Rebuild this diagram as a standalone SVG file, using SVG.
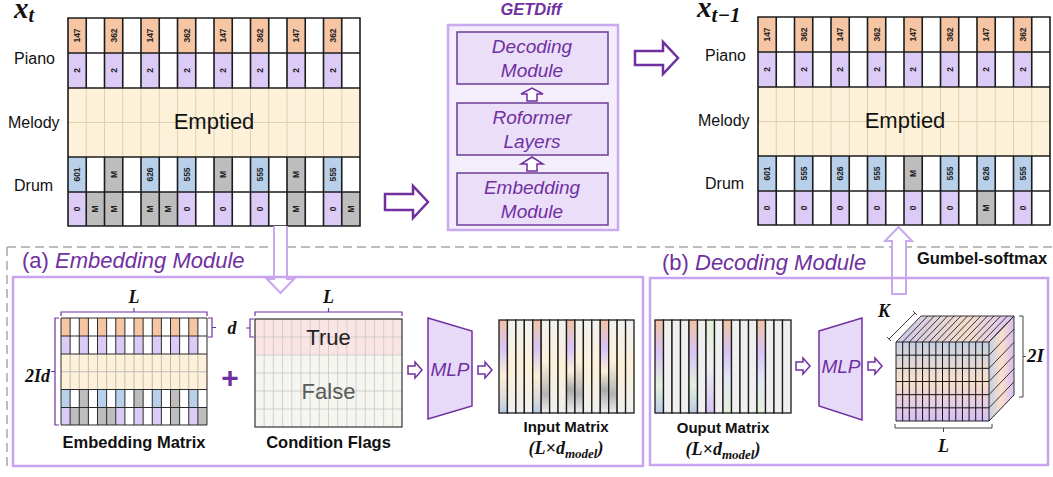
<svg xmlns="http://www.w3.org/2000/svg" width="1053" height="477" viewBox="0 0 1053 477">
<style>
.lbl{font-family:"Liberation Sans",Arial,sans-serif;font-size:16px;fill:#111}
.emp{font-family:"Liberation Sans",Arial,sans-serif;font-size:22px;fill:#111;text-anchor:middle}
.pit{font-family:"Liberation Sans",Arial,sans-serif;font-style:italic;fill:#7030a0;text-anchor:middle}
.ttl{font-family:"Liberation Sans",Arial,sans-serif;font-size:22px;fill:#7030a0}
.bld{font-family:"Liberation Sans",Arial,sans-serif;font-weight:bold;fill:#111;text-anchor:middle}
.mth{font-family:"Liberation Serif","Times New Roman",serif;font-weight:bold;font-style:italic;fill:#111}
.ct{font-family:"Liberation Sans",Arial,sans-serif;font-weight:bold;font-size:8.5px;text-anchor:middle;fill:#222}
.harrow{fill:#fff;stroke:#7030a0;stroke-width:2.5}
.sarrow{fill:#fff;stroke:#7030a0;stroke-width:1.5}
.larrow{fill:#fff;stroke:#c9a8ef;stroke-width:2}
.brace{fill:none;stroke:#7030a0;stroke-width:1.2}
.dbrace{fill:none;stroke:#444;stroke-width:1}
.col{stroke:#1a1a1a;stroke-width:1.3}
.box{fill:none;stroke:#c7a3f0;stroke-width:2.5}
.inner{fill:#ebdef9;stroke:#6b3c93;stroke-width:1.5}
.mlp{fill:#e7daf9;stroke:#7030a0;stroke-width:1.5}
</style>
<defs>
<g id="piano">
<rect x="0" y="0" width="18.25" height="35" fill="#f6c5a3"/><rect x="36.5" y="0" width="18.25" height="35" fill="#f6c5a3"/><rect x="73" y="0" width="18.25" height="35" fill="#f6c5a3"/><rect x="109.5" y="0" width="18.25" height="35" fill="#f6c5a3"/><rect x="146" y="0" width="18.25" height="35" fill="#f6c5a3"/><rect x="182.5" y="0" width="18.25" height="35" fill="#f6c5a3"/><rect x="219" y="0" width="18.25" height="35" fill="#f6c5a3"/><rect x="255.5" y="0" width="18.25" height="35" fill="#f6c5a3"/>
<rect x="0" y="35" width="18.25" height="35" fill="#dccaf7"/><rect x="36.5" y="35" width="18.25" height="35" fill="#dccaf7"/><rect x="73" y="35" width="18.25" height="35" fill="#dccaf7"/><rect x="109.5" y="35" width="18.25" height="35" fill="#dccaf7"/><rect x="146" y="35" width="18.25" height="35" fill="#dccaf7"/><rect x="182.5" y="35" width="18.25" height="35" fill="#dccaf7"/><rect x="219" y="35" width="18.25" height="35" fill="#dccaf7"/><rect x="255.5" y="35" width="18.25" height="35" fill="#dccaf7"/>
<rect x="0" y="70" width="292" height="69" fill="#fdf1d9"/>
</g>
<g id="drumA">
<rect x="0" y="139" width="18.25" height="35" fill="#b8d0ea"/><rect x="36.5" y="139" width="18.25" height="35" fill="#bdbdbd"/><rect x="73" y="139" width="18.25" height="35" fill="#b8d0ea"/><rect x="109.5" y="139" width="18.25" height="35" fill="#b8d0ea"/><rect x="146" y="139" width="18.25" height="35" fill="#bdbdbd"/><rect x="182.5" y="139" width="18.25" height="35" fill="#b8d0ea"/><rect x="219" y="139" width="18.25" height="35" fill="#bdbdbd"/><rect x="255.5" y="139" width="18.25" height="35" fill="#b8d0ea"/>
<rect x="0" y="174" width="18.25" height="34" fill="#dccaf7"/><rect x="18.25" y="174" width="18.25" height="34" fill="#bdbdbd"/><rect x="36.5" y="174" width="18.25" height="34" fill="#bdbdbd"/><rect x="73" y="174" width="18.25" height="34" fill="#bdbdbd"/><rect x="91.25" y="174" width="18.25" height="34" fill="#bdbdbd"/><rect x="109.5" y="174" width="18.25" height="34" fill="#dccaf7"/><rect x="146" y="174" width="18.25" height="34" fill="#dccaf7"/><rect x="182.5" y="174" width="18.25" height="34" fill="#dccaf7"/><rect x="219" y="174" width="18.25" height="34" fill="#bdbdbd"/><rect x="255.5" y="174" width="18.25" height="34" fill="#dccaf7"/><rect x="273.75" y="174" width="18.25" height="34" fill="#bdbdbd"/>
</g>
<g id="drumB">
<rect x="0" y="139" width="18.25" height="35" fill="#b8d0ea"/><rect x="36.5" y="139" width="18.25" height="35" fill="#b8d0ea"/><rect x="73" y="139" width="18.25" height="35" fill="#b8d0ea"/><rect x="109.5" y="139" width="18.25" height="35" fill="#b8d0ea"/><rect x="146" y="139" width="18.25" height="35" fill="#bdbdbd"/><rect x="182.5" y="139" width="18.25" height="35" fill="#b8d0ea"/><rect x="219" y="139" width="18.25" height="35" fill="#b8d0ea"/><rect x="255.5" y="139" width="18.25" height="35" fill="#b8d0ea"/>
<rect x="0" y="174" width="18.25" height="34" fill="#dccaf7"/><rect x="36.5" y="174" width="18.25" height="34" fill="#dccaf7"/><rect x="73" y="174" width="18.25" height="34" fill="#dccaf7"/><rect x="109.5" y="174" width="18.25" height="34" fill="#dccaf7"/><rect x="146" y="174" width="18.25" height="34" fill="#dccaf7"/><rect x="182.5" y="174" width="18.25" height="34" fill="#dccaf7"/><rect x="219" y="174" width="18.25" height="34" fill="#bdbdbd"/><rect x="255.5" y="174" width="18.25" height="34" fill="#dccaf7"/>
</g>
<path id="gridDark" fill="none" vector-effect="non-scaling-stroke" d="M0 0H292V208H0ZM0 35H292M0 70H292M0 139H292M0 174H292M18.25 0V70M36.5 0V70M54.75 0V70M73 0V70M91.25 0V70M109.5 0V70M127.75 0V70M146 0V70M164.25 0V70M182.5 0V70M200.75 0V70M219 0V70M237.25 0V70M255.5 0V70M273.75 0V70M18.25 139V208M36.5 139V208M54.75 139V208M73 139V208M91.25 139V208M109.5 139V208M127.75 139V208M146 139V208M164.25 139V208M182.5 139V208M200.75 139V208M219 139V208M237.25 139V208M255.5 139V208M273.75 139V208"/>
<path id="gridMel" fill="none" vector-effect="non-scaling-stroke" d="M18.25 70V139M36.5 70V139M54.75 70V139M73 70V139M91.25 70V139M109.5 70V139M127.75 70V139M146 70V139M164.25 70V139M182.5 70V139M200.75 70V139M219 70V139M237.25 70V139M255.5 70V139M273.75 70V139M0 104.5H292"/>
<path id="u16x6" fill="none" vector-effect="non-scaling-stroke" d="M1 0V6M2 0V6M3 0V6M4 0V6M5 0V6M6 0V6M7 0V6M8 0V6M9 0V6M10 0V6M11 0V6M12 0V6M13 0V6M14 0V6M15 0V6M0 1H16M0 2H16M0 3H16M0 4H16M0 5H16"/>
<path id="u14x6" fill="none" vector-effect="non-scaling-stroke" d="M1 0V6M2 0V6M3 0V6M4 0V6M5 0V6M6 0V6M7 0V6M8 0V6M9 0V6M10 0V6M11 0V6M12 0V6M13 0V6M0 1H14M0 2H14M0 3H14M0 4H14M0 5H14"/>
<g id="ptxt" font-family="Liberation Sans, Arial, sans-serif" font-weight="bold" font-size="8.5" text-anchor="middle" fill="#222">
<text transform="translate(9.125,17.5) rotate(-90)" y="3">147</text><text transform="translate(45.625,17.5) rotate(-90)" y="3">362</text><text transform="translate(82.125,17.5) rotate(-90)" y="3">147</text><text transform="translate(118.625,17.5) rotate(-90)" y="3">362</text><text transform="translate(155.125,17.5) rotate(-90)" y="3">147</text><text transform="translate(191.625,17.5) rotate(-90)" y="3">362</text><text transform="translate(228.125,17.5) rotate(-90)" y="3">147</text><text transform="translate(264.625,17.5) rotate(-90)" y="3">362</text>
<text transform="translate(9.125,52.5) rotate(-90)" y="3">2</text><text transform="translate(45.625,52.5) rotate(-90)" y="3">2</text><text transform="translate(82.125,52.5) rotate(-90)" y="3">2</text><text transform="translate(118.625,52.5) rotate(-90)" y="3">2</text><text transform="translate(155.125,52.5) rotate(-90)" y="3">2</text><text transform="translate(191.625,52.5) rotate(-90)" y="3">2</text><text transform="translate(228.125,52.5) rotate(-90)" y="3">2</text><text transform="translate(264.625,52.5) rotate(-90)" y="3">2</text>
</g>
<path id="sArrowR" d="M0 -4H7V-8L14 0L7 8V4H0Z"/>
<linearGradient id="inA" x1="0" y1="0" x2="0" y2="1"><stop offset="0" stop-color="#f3c3a4"/><stop offset="0.3" stop-color="#d8c4f6"/><stop offset="0.6" stop-color="#fcefd6"/><stop offset="0.85" stop-color="#dadada"/><stop offset="1" stop-color="#b9cbe6"/></linearGradient>
<linearGradient id="inB" x1="0" y1="0" x2="0" y2="1"><stop offset="0" stop-color="#f3c3a4"/><stop offset="0.3" stop-color="#d8c4f6"/><stop offset="0.55" stop-color="#fcefd6"/><stop offset="0.75" stop-color="#ababab"/><stop offset="1" stop-color="#efefef"/></linearGradient>
<linearGradient id="inP" x1="0" y1="0" x2="0" y2="1"><stop offset="0" stop-color="#f1f1f1"/><stop offset="0.5" stop-color="#fcf0d8"/><stop offset="1" stop-color="#efefef"/></linearGradient>
<linearGradient id="inG" x1="0" y1="0" x2="0" y2="1"><stop offset="0" stop-color="#f1f1f1"/><stop offset="0.45" stop-color="#fcf0d8"/><stop offset="0.8" stop-color="#b4b4b4"/><stop offset="1" stop-color="#eeeeee"/></linearGradient>
<linearGradient id="ouA" x1="0" y1="0" x2="0" y2="1"><stop offset="0" stop-color="#f3c3a4"/><stop offset="0.35" stop-color="#d8c4f6"/><stop offset="0.7" stop-color="#e3f0da"/><stop offset="1" stop-color="#b9cbe6"/></linearGradient>
<linearGradient id="ouB" x1="0" y1="0" x2="0" y2="1"><stop offset="0" stop-color="#f3c3a4"/><stop offset="0.35" stop-color="#d8c4f6"/><stop offset="0.65" stop-color="#e0e9f3"/><stop offset="1" stop-color="#e3f0da"/></linearGradient>
<linearGradient id="ouC" x1="0" y1="0" x2="0" y2="1"><stop offset="0" stop-color="#e2efd9"/><stop offset="0.5" stop-color="#efefef"/><stop offset="1" stop-color="#d6c2f5"/></linearGradient>
<linearGradient id="cubeF" x1="0" y1="0" x2="0" y2="1"><stop offset="0" stop-color="#c6d0e3"/><stop offset="0.5" stop-color="#fadfcb"/><stop offset="1" stop-color="#d5bff5"/></linearGradient>
<linearGradient id="cubeS" x1="0" y1="0" x2="1" y2="0"><stop offset="0" stop-color="#c6d0e3"/><stop offset="0.5" stop-color="#fadfcb"/><stop offset="1" stop-color="#d5bff5"/></linearGradient>
<linearGradient id="cubeT" x1="0" y1="0" x2="1" y2="0"><stop offset="0" stop-color="#cbc8ea"/><stop offset="0.6" stop-color="#f3dccb"/><stop offset="1" stop-color="#d9c4f5"/></linearGradient>
</defs>

<path d="M7 247H1053M7 247V470" fill="none" stroke="#a8a8a8" stroke-width="1.5" stroke-dasharray="9 5"/>

<g id="label-xt"><text class="mth" x="14" y="18" font-size="29">x<tspan font-size="20" dy="4">t</tspan></text></g>
<g id="label-xt1"><text class="mth" x="697" y="17" font-size="29">x<tspan font-size="21" dy="5">t−1</tspan></text></g>
<g id="track-labels">
<text class="lbl" x="14" y="64">Piano</text><text class="lbl" x="8" y="128">Melody</text><text class="lbl" x="14" y="191">Drum</text>
<text class="lbl" x="705" y="61">Piano</text><text class="lbl" x="698" y="126">Melody</text><text class="lbl" x="705" y="189">Drum</text>
</g>

<g id="grid-xt" transform="translate(68,18)">
<rect width="292" height="208" fill="#fff"/>
<use href="#piano"/><use href="#drumA"/><use href="#ptxt"/>
<g class="ct">
<text transform="translate(9.125,156.5) rotate(-90)" y="3">601</text><text transform="translate(45.625,156.5) rotate(-90)" y="3">M</text><text transform="translate(82.125,156.5) rotate(-90)" y="3">626</text><text transform="translate(118.625,156.5) rotate(-90)" y="3">555</text><text transform="translate(155.125,156.5) rotate(-90)" y="3">M</text><text transform="translate(191.625,156.5) rotate(-90)" y="3">555</text><text transform="translate(228.125,156.5) rotate(-90)" y="3">M</text><text transform="translate(264.625,156.5) rotate(-90)" y="3">555</text>
<text transform="translate(9.125,191) rotate(-90)" y="3">0</text><text transform="translate(27.375,191) rotate(-90)" y="3">M</text><text transform="translate(45.625,191) rotate(-90)" y="3">M</text><text transform="translate(82.125,191) rotate(-90)" y="3">M</text><text transform="translate(100.375,191) rotate(-90)" y="3">M</text><text transform="translate(118.625,191) rotate(-90)" y="3">0</text><text transform="translate(155.125,191) rotate(-90)" y="3">0</text><text transform="translate(191.625,191) rotate(-90)" y="3">0</text><text transform="translate(228.125,191) rotate(-90)" y="3">M</text><text transform="translate(264.625,191) rotate(-90)" y="3">0</text><text transform="translate(282.875,191) rotate(-90)" y="3">M</text>
</g>
<use href="#gridMel" stroke="#ddd1af" stroke-width="1"/>
<text class="emp" x="146" y="111">Emptied</text>
<use href="#gridDark" stroke="#1c1c1c" stroke-width="1.6"/>
</g>

<g id="grid-xt1" transform="translate(758,17)">
<rect width="292" height="208" fill="#fff"/>
<use href="#piano"/><use href="#drumB"/><use href="#ptxt"/>
<g class="ct">
<text transform="translate(9.125,156.5) rotate(-90)" y="3">601</text><text transform="translate(45.625,156.5) rotate(-90)" y="3">555</text><text transform="translate(82.125,156.5) rotate(-90)" y="3">626</text><text transform="translate(118.625,156.5) rotate(-90)" y="3">555</text><text transform="translate(155.125,156.5) rotate(-90)" y="3">M</text><text transform="translate(191.625,156.5) rotate(-90)" y="3">555</text><text transform="translate(228.125,156.5) rotate(-90)" y="3">626</text><text transform="translate(264.625,156.5) rotate(-90)" y="3">555</text>
<text transform="translate(9.125,191) rotate(-90)" y="3">0</text><text transform="translate(45.625,191) rotate(-90)" y="3">0</text><text transform="translate(82.125,191) rotate(-90)" y="3">0</text><text transform="translate(118.625,191) rotate(-90)" y="3">0</text><text transform="translate(155.125,191) rotate(-90)" y="3">0</text><text transform="translate(191.625,191) rotate(-90)" y="3">0</text><text transform="translate(228.125,191) rotate(-90)" y="3">M</text><text transform="translate(264.625,191) rotate(-90)" y="3">0</text>
</g>
<use href="#gridMel" stroke="#ddd1af" stroke-width="1"/>
<text class="emp" x="147" y="111">Emptied</text>
<use href="#gridDark" stroke="#1c1c1c" stroke-width="1.6"/>
</g>

<g id="getdiff">
<text class="pit" x="531" y="15" font-size="16.5" font-weight="bold">GETDiff</text>
<rect x="448" y="25" width="170" height="205" fill="#f4eefc" stroke="#c9a9f0" stroke-width="2.5"/>
<g id="decoding-box"><rect class="inner" x="457" y="32" width="151" height="52"/><text class="pit" x="532" y="53" font-size="19">Decoding</text><text class="pit" x="532" y="77" font-size="19">Module</text></g>
<g id="roformer-box"><rect class="inner" x="457" y="103" width="151" height="52"/><text class="pit" x="532" y="124" font-size="19">Roformer</text><text class="pit" x="532" y="148" font-size="19">Layers</text></g>
<g id="embedding-box"><rect class="inner" x="457" y="173" width="151" height="52"/><text class="pit" x="532" y="194" font-size="19">Embedding</text><text class="pit" x="532" y="218" font-size="19">Module</text></g>
</g>

<g id="connectors">
<path class="sarrow" d="M527 101V94H521L532 88L543 94H537V101Z"/>
<path class="sarrow" d="M527 171V164H521L532 157L543 164H537V171Z"/>
<path class="harrow" d="M635 51H663V42L678 58L663 74V65H635Z"/>
<path class="harrow" d="M385 194H413V186L428 202L413 218V210H385Z"/>
<path class="larrow" d="M274 226V279H267L280.5 293L294 279H287V226"/>
<path class="larrow" d="M892 294V241H885L898.5 227L912 241H906V294Z"/>
<use href="#sArrowR" class="sarrow" x="408" y="370"/>
<use href="#sArrowR" class="sarrow" x="478" y="370"/>
<use href="#sArrowR" class="sarrow" x="796" y="366"/>
<use href="#sArrowR" class="sarrow" x="868" y="366"/>
</g>

<g id="embedding-module">
<rect class="box" x="13" y="277" width="630" height="189"/>
<text class="ttl" x="22" y="268">(a) <tspan font-style="italic">Embedding Module</tspan></text>
</g>
<g id="decoding-module">
<rect class="box" x="650" y="278" width="398" height="187"/>
<text class="ttl" x="662" y="270">(b) <tspan font-style="italic">Decoding Module</tspan></text>
<text class="bld" x="982" y="264" font-size="16.5">Gumbel-softmax</text>
</g>

<g id="embedding-matrix">
<g transform="translate(61,318) scale(0.5,0.5144)">
<rect width="292" height="208" fill="#fff"/><use href="#piano"/><use href="#drumA"/>
<use href="#gridMel" stroke="#b0b0b0" stroke-width="0.8"/>
<use href="#gridDark" stroke="#2a2a2a" stroke-width="1"/>
</g>
<path class="brace" d="M61 316V312H207V316M134 312V308"/>
<text class="mth" x="134" y="303" font-size="18" text-anchor="middle">L</text>
<path class="brace" d="M59 318H55V425H59M55 371.5H51"/>
<text class="mth" x="50" y="382" font-size="18" text-anchor="end">2Id</text>
<path class="brace" d="M208 318H212V337H208M212 327.5H216"/>
<text class="mth" x="232" y="334" font-size="18" text-anchor="middle">d</text>
<text class="bld" x="134" y="448" font-size="16.5">Embedding Matrix</text>
</g>
<text x="230" y="388" font-family="Liberation Sans, Arial, sans-serif" font-weight="bold" font-size="30" fill="#7030a0" text-anchor="middle">+</text>

<g id="condition-flags">
<rect x="255" y="319" width="147" height="36" fill="#fbe4e4"/>
<rect x="255" y="355" width="147" height="72" fill="#f4f6ef"/>
<use href="#u16x6" transform="translate(255,319) scale(9.1875,18)" stroke="#c8c8c8" stroke-width="0.8"/>
<rect x="255" y="319" width="147" height="108" fill="none" stroke="#333" stroke-width="1.2"/>
<text x="328.5" y="345" font-family="Liberation Sans, Arial, sans-serif" font-size="22" fill="#222" text-anchor="middle">True</text>
<text x="328.5" y="399" font-family="Liberation Sans, Arial, sans-serif" font-size="22" fill="#5a5a5a" text-anchor="middle">False</text>
<path class="brace" d="M254 319H250V337H254M250 328H246"/>
<path class="brace" d="M255 316V312H402V316M328.5 312V308"/>
<text class="mth" x="328.5" y="303" font-size="18" text-anchor="middle">L</text>
<text class="bld" x="328.5" y="448" font-size="16.5">Condition Flags</text>
</g>

<g id="mlp-embed">
<path class="mlp" d="M428 318L472 331V406L428 419Z"/>
<text class="pit" x="450" y="376" font-size="19">MLP</text>
</g>

<g id="input-matrix">
<g class="col">
<rect x="499" y="320" width="8.44" height="93" fill="url(#inA)"/><rect x="507.44" y="320" width="8.44" height="93" fill="url(#inP)"/><rect x="515.88" y="320" width="8.44" height="93" fill="url(#inP)"/><rect x="524.31" y="320" width="8.44" height="93" fill="url(#inP)"/><rect x="532.75" y="320" width="8.44" height="93" fill="url(#inA)"/><rect x="541.19" y="320" width="8.44" height="93" fill="url(#inG)"/><rect x="549.63" y="320" width="8.44" height="93" fill="url(#inP)"/><rect x="558.06" y="320" width="8.44" height="93" fill="url(#inP)"/><rect x="566.5" y="320" width="8.44" height="93" fill="url(#inB)"/><rect x="574.94" y="320" width="8.44" height="93" fill="url(#inG)"/><rect x="583.38" y="320" width="8.44" height="93" fill="url(#inP)"/><rect x="591.81" y="320" width="8.44" height="93" fill="url(#inP)"/><rect x="600.25" y="320" width="8.44" height="93" fill="url(#inB)"/><rect x="608.69" y="320" width="8.44" height="93" fill="url(#inG)"/><rect x="617.13" y="320" width="8.44" height="93" fill="url(#inP)"/><rect x="625.56" y="320" width="8.44" height="93" fill="url(#inP)"/>
</g>
<text class="bld" x="566" y="432" font-size="15">Input Matrix</text>
<text class="mth" x="566" y="454" font-size="18" text-anchor="middle" font-style="normal">(<tspan font-style="italic">L</tspan>×<tspan font-style="italic">d</tspan><tspan font-style="italic" font-size="13" dy="4">model</tspan><tspan dy="-4">)</tspan></text>
</g>

<g id="output-matrix">
<g class="col">
<rect x="655" y="320" width="8.5" height="93" fill="url(#ouA)"/><rect x="663.5" y="320" width="8.5" height="93" fill="#efefef"/><rect x="672" y="320" width="8.5" height="93" fill="#efefef"/><rect x="680.5" y="320" width="8.5" height="93" fill="#efefef"/><rect x="689" y="320" width="8.5" height="93" fill="url(#ouA)"/><rect x="697.5" y="320" width="8.5" height="93" fill="#efefef"/><rect x="706" y="320" width="8.5" height="93" fill="url(#ouC)"/><rect x="714.5" y="320" width="8.5" height="93" fill="#efefef"/><rect x="723" y="320" width="8.5" height="93" fill="url(#ouB)"/><rect x="731.5" y="320" width="8.5" height="93" fill="#efefef"/><rect x="740" y="320" width="8.5" height="93" fill="#efefef"/><rect x="748.5" y="320" width="8.5" height="93" fill="#efefef"/><rect x="757" y="320" width="8.5" height="93" fill="url(#ouB)"/><rect x="765.5" y="320" width="8.5" height="93" fill="#efefef"/><rect x="774" y="320" width="8.5" height="93" fill="#efefef"/><rect x="782.5" y="320" width="8.5" height="93" fill="#efefef"/>
</g>
<text class="bld" x="723" y="433" font-size="15">Ouput Matrix</text>
<text class="mth" x="723" y="455" font-size="18" text-anchor="middle" font-style="normal">(<tspan font-style="italic">L</tspan>×<tspan font-style="italic">d</tspan><tspan font-style="italic" font-size="13" dy="4">model</tspan><tspan dy="-4">)</tspan></text>
</g>

<g id="mlp-decode">
<path class="mlp" d="M819 331L862 318V420L819 406Z"/>
<text class="pit" x="841" y="373" font-size="19">MLP</text>
</g>

<g id="output-cube">
<path d="M896 342L921 316H1014L989 342Z" fill="url(#cubeT)"/>
<path d="M989 342L1014 316V395L989 421Z" fill="url(#cubeS)"/>
<rect x="896" y="342" width="93" height="79" fill="url(#cubeF)"/>
<path fill="none" vector-effect="non-scaling-stroke" stroke="#222" stroke-width="0.9" transform="matrix(6.643 0 25 -26 896 342)" d="M0 0V1M1 0V1M2 0V1M3 0V1M4 0V1M5 0V1M6 0V1M7 0V1M8 0V1M9 0V1M10 0V1M11 0V1M12 0V1M13 0V1M14 0V1M0 1H14"/>
<path fill="none" vector-effect="non-scaling-stroke" stroke="#222" stroke-width="0.9" transform="matrix(25 -26 0 13.167 989 342)" d="M0 1H1M0 2H1M0 3H1M0 4H1M0 5H1M1 0V6"/>
<use href="#u14x6" transform="translate(896,342) scale(6.643,13.167)" stroke="#111" stroke-width="1"/>
<path d="M896 342L989 342L1014 316M989 342V421M896 342V421H989L1014 395" fill="none" stroke="#222" stroke-width="1"/>
<path class="dbrace" d="M889 339L915 313M887 337L891 341M913 311L917 315"/>
<text class="mth" x="884" y="317" font-size="18" text-anchor="middle">K</text>
<path class="dbrace" d="M1019 316H1023V397H1019M1023 356.5H1026"/>
<text class="mth" x="1027" y="362" font-size="19">2I</text>
<path class="dbrace" d="M895 424V428H992V424M943.5 428V432"/>
<text class="mth" x="943.5" y="452" font-size="18" text-anchor="middle">L</text>
</g>
</svg>
